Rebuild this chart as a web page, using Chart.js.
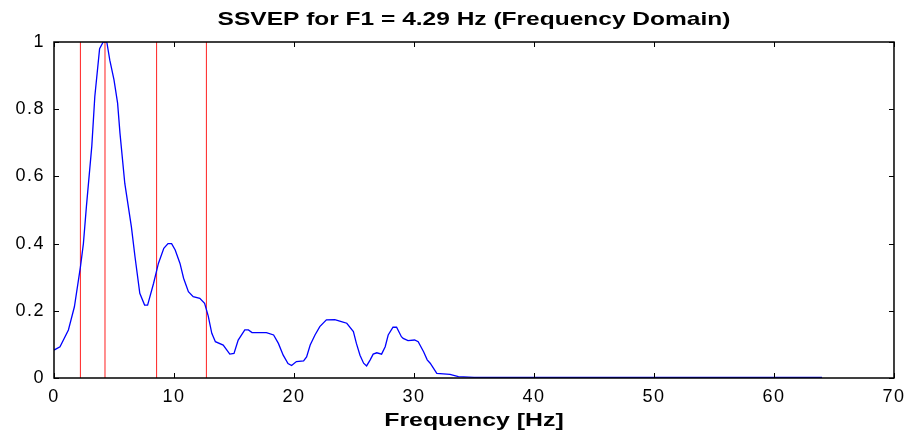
<!DOCTYPE html>
<html>
<head>
<meta charset="utf-8">
<script src="https://cdn.jsdelivr.net/npm/chart.js@4.4.1/dist/chart.umd.min.js"></script>
<style>
  html, body { margin: 0; padding: 0; background: #fff; }
  #wrap { width: 912px; height: 439px; }
</style>
</head>
<body>
<div id="wrap"><canvas id="c" width="912" height="439"></canvas></div>
<script>
const freqHz = [0, 0.5, 1.2, 1.7, 2.2, 2.45, 2.7, 3.15, 3.4, 3.8, 4.1, 4.4, 4.65, 5.0, 5.3, 5.5, 5.9, 6.45, 6.75, 7.15, 7.55, 7.8, 8.3, 8.7, 9.15, 9.5, 9.8, 10.1, 10.5, 10.8, 11.2, 11.6, 12.15, 12.55, 12.85, 13.15, 13.45, 14.1, 14.65, 15.0, 15.35, 15.9, 16.2, 16.5, 17.7, 18.3, 18.7, 19.1, 19.5, 19.8, 20.2, 20.8, 21.05, 21.35, 21.75, 22.15, 22.7, 23.4, 23.95, 24.4, 24.95, 25.2, 25.5, 25.8, 26.05, 26.35, 26.6, 26.9, 27.3, 27.6, 27.85, 28.25, 28.55, 28.95, 29.1, 29.5, 30.05, 30.35, 30.8, 31.1, 31.35, 31.9, 33.0, 33.7, 35, 40, 50, 64];
const amplitude = [0.083, 0.093, 0.143, 0.212, 0.33, 0.40, 0.51, 0.69, 0.837, 0.98, 1.0, 1.0, 0.946, 0.887, 0.818, 0.728, 0.579, 0.45, 0.361, 0.252, 0.217, 0.217, 0.282, 0.341, 0.386, 0.40, 0.40, 0.381, 0.341, 0.297, 0.257, 0.242, 0.237, 0.222, 0.185, 0.133, 0.108, 0.098, 0.071, 0.073, 0.113, 0.143, 0.143, 0.135, 0.135, 0.128, 0.103, 0.068, 0.043, 0.037, 0.049, 0.051, 0.063, 0.098, 0.128, 0.153, 0.173, 0.174, 0.168, 0.163, 0.138, 0.103, 0.068, 0.044, 0.036, 0.054, 0.071, 0.075, 0.071, 0.093, 0.128, 0.151, 0.151, 0.123, 0.118, 0.111, 0.113, 0.108, 0.078, 0.054, 0.044, 0.014, 0.011, 0.004, 0.002, 0.002, 0.002, 0.002];
const markerFreqs = [2.2, 4.25, 8.55, 12.7];
const markerRange = [0, 1];
const xTicks = [0, 10, 20, 30, 40, 50, 60, 70];
const yTicks = [0, 0.2, 0.4, 0.6, 0.8, 1];
const titleText = 'SSVEP for F1 = 4.29 Hz (Frequency Domain)';
const xLabel = 'Frequency [Hz]';

const FONT = 'Liberation Sans, Arial, Helvetica, sans-serif';

const datasets = [];
markerFreqs.forEach(f => {
  datasets.push({
    data: markerRange.map(v => ({ x: f, y: v })),
    borderColor: '#ff2020',
    borderWidth: 1,
    pointRadius: 0,
    tension: 0,
    order: 2
  });
});
datasets.push({
  data: freqHz.map((f, i) => ({ x: f, y: amplitude[i] })),
  borderColor: '#0000ff',
  borderWidth: 1.3,
  pointRadius: 0,
  tension: 0,
  order: 1
});

// letter spacing wrapper (tick labels)
function withSpacing(fn, spacing) {
  return function (...args) {
    const ctx = this.ctx;
    ctx.save();
    ctx.letterSpacing = spacing;
    const r = fn.apply(this, args);
    ctx.restore();
    ctx.letterSpacing = '0px';
    return r;
  };
}
// horizontal stretch wrapper (titles): text drawn centred at fromX is re-centred at toX, stretched by sx
function withStretch(fn, getFromX, getToX, sx) {
  return function (...args) {
    const ctx = this.ctx;
    const fromX = getFromX(this), toX = getToX(this);
    ctx.save();
    ctx.translate(toX, 0);
    ctx.scale(sx, 1);
    ctx.translate(-fromX, 0);
    const r = fn.apply(this, args);
    ctx.restore();
    return r;
  };
}

function patchScale(s, labelSp, titleStretch) {
  if (s._spPatched) return;
  s._spPatched = true;
  s.drawLabels = withSpacing(s.drawLabels, labelSp);
  if (titleStretch) {
    const mid = sc => (sc.left + sc.right) / 2;
    s.drawTitle = withStretch(s.drawTitle, mid, mid, titleStretch);
  }
}

const boxPlugin = {
  id: 'box',
  beforeDraw(chart) {
    const tb = chart.titleBlock;
    if (tb && !tb._spPatched) {
      tb._spPatched = true;
      tb.draw = withStretch(tb.draw,
        b => (b.left + b.right) / 2,
        () => (chart.chartArea.left + chart.chartArea.right) / 2,
        1.29);
    }
  },
  afterDatasetsDraw(chart) {
    const { ctx, chartArea: a, scales } = chart;
    ctx.save();
    ctx.strokeStyle = '#000';
    ctx.lineWidth = 1;
    const L = 5;
    ctx.beginPath();
    xTicks.forEach(t => {
      const x = Math.round(scales.x.getPixelForValue(t)) + 0.5;
      ctx.moveTo(x, a.bottom); ctx.lineTo(x, a.bottom - L);
      ctx.moveTo(x, a.top); ctx.lineTo(x, a.top + L);
    });
    yTicks.forEach(t => {
      const y = Math.round(scales.y.getPixelForValue(t)) + 0.5;
      ctx.moveTo(a.left, y); ctx.lineTo(a.left + L, y);
      ctx.moveTo(a.right, y); ctx.lineTo(a.right - L, y);
    });
    ctx.stroke();
    ctx.lineWidth = 1.5;
    ctx.strokeRect(a.left, a.top, a.right - a.left, a.bottom - a.top);
    ctx.restore();
  }
};

new Chart(document.getElementById('c'), {
  type: 'line',
  data: { datasets },
  plugins: [boxPlugin],
  options: {
    responsive: false,
    animation: false,
    layout: { padding: { left: 0, right: 18, top: 0, bottom: 0 } },
    plugins: {
      legend: { display: false },
      tooltip: { enabled: false },
      title: {
        display: true,
        text: titleText,
        color: '#000',
        font: { family: FONT, size: 19, weight: 'bold' },
        padding: { top: 8, bottom: 11.2 }
      }
    },
    scales: {
      x: {
        type: 'linear',
        min: 0, max: 70,
        afterBuildTicks(s) { s.ticks = xTicks.map(v => ({ value: v })); },
        afterFit(s) { s.height = 61; patchScale(s, '1.5px', 1.38); },
        grid: { display: false, drawTicks: false },
        border: { display: false },
        ticks: { color: '#000', font: { family: FONT, size: 18 }, padding: 8, maxRotation: 0 },
        title: {
          display: true, text: xLabel, color: '#000',
          font: { family: FONT, size: 18, weight: 'bold' },
          padding: { top: 2, bottom: 7 }
        }
      },
      y: {
        type: 'linear',
        min: 0, max: 1,
        afterBuildTicks(s) { s.ticks = yTicks.map(v => ({ value: v })); },
        afterFit(s) { s.width = 54; patchScale(s, '1.5px', null); },
        grid: { display: false, drawTicks: false },
        border: { display: false },
        ticks: {
          color: '#000', font: { family: FONT, size: 18 }, padding: 9,
          callback: v => String(Number(v.toFixed(2)))
        }
      }
    }
  }
});
</script>
</body>
</html>
